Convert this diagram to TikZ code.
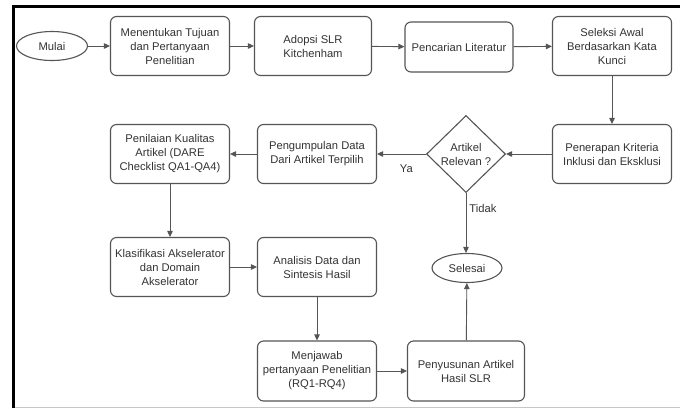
\documentclass[tikz,border=0pt]{standalone}
\usepackage{fontspec}
\setmainfont{Liberation Sans}
\usetikzlibrary{shapes.geometric,arrows.meta}
\definecolor{edge}{HTML}{555555}
\definecolor{ink}{HTML}{333333}
\begin{document}
\begin{tikzpicture}[x=1pt,y=-1pt,
  every node/.style={font=\fontsize{11.2}{14}\selectfont, text=ink, align=center},
  box/.style={draw=edge, line width=1.1pt, rounded corners=6pt, minimum width=119pt, minimum height=59pt, inner sep=1pt},
  term/.style={draw=edge, line width=1.1pt, ellipse, minimum width=71pt, minimum height=29pt, inner sep=0pt},
  decision/.style={draw=edge, line width=1.1pt, diamond, minimum width=79pt, minimum height=77pt, inner sep=0pt},
  flow/.style={draw=edge, line width=0.9pt, -{Triangle[length=6pt,width=5.5pt]}},
  lbl/.style={font=\fontsize{11.2}{14}\selectfont, inner sep=0pt}]
\useasboundingbox (0,0) rectangle (680,408);
\fill[white] (0,0) rectangle (680,408);
% frame
\draw[black, line width=3pt] (13.5,408) -- (13.5,6.5) -- (680,6.5);
\draw[black!22, line width=1pt] (15,407.5) -- (680,407.5);
% nodes
\node[term] (mulai) at (52,46) {Mulai};
\node[box] (tujuan) at (170,46) {Menentukan Tujuan\\dan Pertanyaan\\Penelitian};
\node[box, minimum width=117pt] (adopsi) at (313,46) {Adopsi SLR\\Kitchenham};
\node[box, minimum width=108pt, minimum height=50pt] (cari) at (459,47) {Pencarian Literatur};
\node[box] (seleksi) at (612,46) {Seleksi Awal\\Berdasarkan Kata\\Kunci};
\node[box] (terap) at (612,154) {Penerapan Kriteria\\Inklusi dan Eksklusi};
\node[decision] (relevan) at (466,154) {Artikel\\Relevan ?};
\node[box] (kumpul) at (317,154) {Pengumpulan Data\\Dari Artikel Terpilih};
\node[box] (nilai) at (170,154) {Penilaian Kualitas\\Artikel (DARE\\Checklist QA1-QA4)};
\node[box] (klas) at (170,267) {Klasifikasi Akselerator\\dan Domain\\Akselerator};
\node[box] (analisis) at (317,267) {Analisis Data dan\\Sintesis Hasil};
\node[box, minimum height=60pt] (jawab) at (317,371) {Menjawab\\pertanyaan Penelitian\\(RQ1-RQ4)};
\node[box, minimum width=117pt, minimum height=60pt] (susun) at (466,371) {Penyusunan Artikel\\Hasil SLR};
\node[term, minimum width=70pt, minimum height=29pt] (selesai) at (467,268) {Selesai};
% connectors
\draw[flow] (mulai) -- (tujuan);
\draw[flow] (tujuan) -- (adopsi);
\draw[flow] (adopsi) -- (cari);
\draw[flow] (cari) -- (seleksi);
\draw[flow] (seleksi) -- (terap);
\draw[flow] (terap) -- (relevan);
\draw[flow] (relevan) -- node[lbl, pos=0.4, below=10pt] {Ya} (kumpul);
\draw[flow] (kumpul) -- (nilai);
\draw[flow] (nilai) -- (klas);
\draw[flow] (klas) -- (analisis);
\draw[flow] (analisis) -- (jawab);
\draw[flow] (jawab) -- (susun);
\draw[flow] (susun) -- (selesai);
\draw[flow] (relevan.south) -- node[lbl, pos=0.25, right=3pt] {Tidak} (relevan.south |- selesai.north);
\end{tikzpicture}
\end{document}
